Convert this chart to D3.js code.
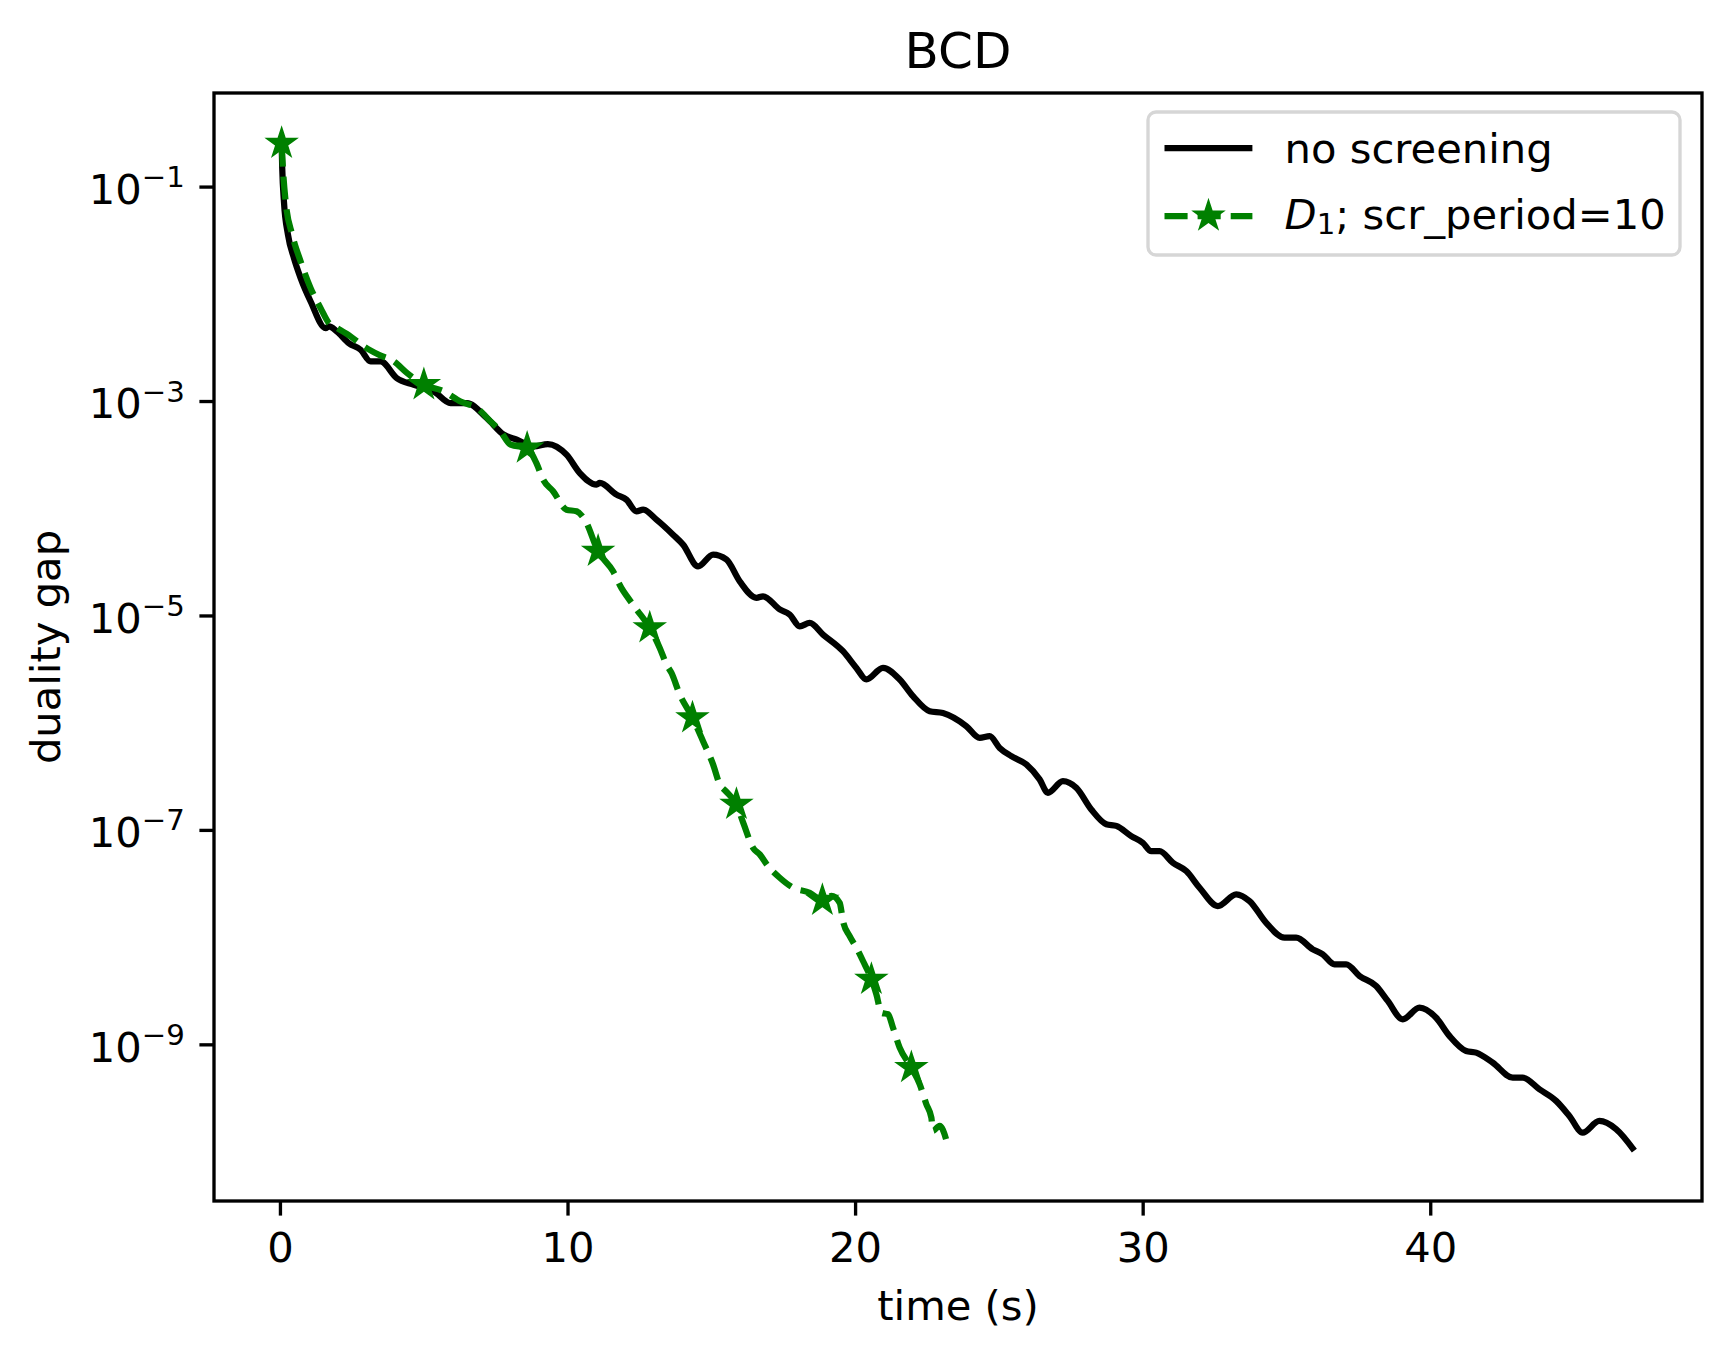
<!DOCTYPE html>
<html lang="en">
	<head>
		<meta charset="utf-8">
		<title>BCD duality gap</title>
		<script type="text/javascript" src="https://cdn.jsdelivr.net/npm/d3@7/dist/d3.min.js"></script>
		<style type="text/css">
			body { margin: 0; background: #fff; }
			text { font-family: "DejaVu Sans", sans-serif; }
		</style>
	</head>
	<body>
		<script type="text/javascript">

			// data
			var blackTime = [0.059, 0.080, 0.139, 0.278, 0.487, 0.720, 1.067, 1.588, 1.703, 1.981,
				2.398, 2.805, 3.153, 3.500, 4.067, 4.658, 5.353, 5.933, 6.500, 7.195,
				7.786, 8.238, 8.829, 9.315, 9.965, 10.428, 11.008, 11.123, 11.703, 12.051,
				12.398, 12.628, 13.093, 13.670, 14.018, 14.539, 15.061, 15.527, 15.989, 16.569,
				16.799, 17.379, 17.727, 18.074, 18.422, 18.884, 19.579, 20.045, 20.393, 20.970,
				21.550, 22.012, 22.593, 23.055, 23.869, 24.331, 24.679, 25.026, 25.433, 25.954,
				26.416, 26.705, 27.226, 27.692, 28.213, 28.735, 29.083, 29.604, 30.007, 30.299,
				30.588, 31.050, 31.516, 31.978, 32.614, 33.254, 33.716, 34.296, 34.932, 35.339,
				35.916, 36.263, 36.670, 37.077, 37.539, 38.119, 38.523, 39.044, 39.624, 40.205,
				40.667, 41.248, 41.595, 42.172, 42.868, 43.215, 43.796, 44.376, 44.838, 45.301,
				45.881, 46.462, 47.098];
			var blackGap = [2.53e-1, 1.48e-1, 7.25e-2, 3.57e-2, 2.15e-2, 1.40e-2, 8.48e-3, 4.78e-3, 4.96e-3, 4.45e-3,
				3.46e-3, 3.01e-3, 2.34e-3, 2.34e-3, 1.63e-3, 1.42e-3, 1.23e-3, 9.56e-4, 9.56e-4, 6.93e-4,
				4.85e-4, 4.36e-4, 3.77e-4, 3.97e-4, 3.16e-4, 2.13e-4, 1.66e-4, 1.72e-4, 1.34e-4, 1.20e-4,
				9.36e-5, 9.70e-5, 7.83e-5, 5.67e-5, 4.58e-5, 2.87e-5, 3.69e-5, 3.32e-5, 2.08e-5, 1.46e-5,
				1.51e-5, 1.14e-5, 1.02e-5, 7.93e-6, 8.51e-6, 6.64e-6, 4.64e-6, 3.24e-6, 2.53e-6, 3.24e-6,
				2.53e-6, 1.77e-6, 1.28e-6, 1.23e-6, 9.28e-7, 7.22e-7, 7.48e-7, 5.82e-7, 4.87e-7, 4.08e-7,
				2.96e-7, 2.22e-7, 2.85e-7, 2.47e-7, 1.55e-7, 1.13e-7, 1.09e-7, 8.75e-8, 7.58e-8, 6.34e-8,
				6.34e-8, 4.94e-8, 4.13e-8, 2.89e-8, 1.95e-8, 2.51e-8, 2.17e-8, 1.36e-8, 9.87e-9, 9.87e-9,
				7.69e-9, 6.91e-9, 5.58e-9, 5.58e-9, 4.34e-9, 3.50e-9, 2.54e-9, 1.71e-9, 2.20e-9, 1.77e-9,
				1.20e-9, 8.68e-10, 8.37e-10, 6.75e-10, 4.89e-10, 4.89e-10, 3.81e-10, 2.97e-10, 2.15e-10, 1.50e-10,
				1.93e-10, 1.62e-10, 1.02e-10];

			var greenTime = [0.059, 0.104, 0.198, 0.428, 0.720, 1.067, 1.415, 1.703, 1.992, 2.457,
				2.920, 3.441, 3.962, 4.425, 5.005, 5.700, 6.281, 6.858, 7.324, 7.671,
				8.019, 8.596, 8.923, 9.152, 9.499, 9.965, 10.313, 10.601, 11.064, 11.585,
				11.877, 12.106, 12.398, 12.860, 13.208, 13.441, 13.615, 13.903, 14.345, 14.713,
				15.061, 15.294, 15.502, 15.874, 16.128, 16.451, 16.684, 16.972, 17.379, 17.842,
				18.422, 18.863, 19.176, 19.465, 19.580, 19.812, 20.045, 20.275, 20.567, 20.740,
				20.914, 21.144, 21.318, 21.550, 21.957, 22.245, 22.478, 22.652, 22.708, 22.941,
				23.229];
			var greenGap = [2.53e-1, 1.48e-1, 7.25e-2, 3.55e-2, 2.00e-2, 1.13e-2, 7.34e-3, 5.32e-3, 4.78e-3, 4.00e-3,
				3.23e-3, 2.70e-3, 2.34e-3, 1.82e-3, 1.42e-3, 1.23e-3, 9.91e-4, 8.58e-4, 6.45e-4, 5.21e-4,
				3.92e-4, 3.64e-4, 2.62e-4, 1.85e-4, 1.44e-4, 9.70e-5, 9.36e-5, 7.83e-5, 3.97e-5, 2.58e-5,
				1.80e-5, 1.46e-5, 1.14e-5, 7.65e-6, 4.98e-6, 3.49e-6, 2.91e-6, 1.83e-6, 1.11e-6, 6.72e-7,
				4.08e-7, 2.66e-7, 2.30e-7, 1.73e-7, 1.13e-7, 6.81e-8, 5.91e-8, 4.60e-8, 3.58e-8, 2.89e-8,
				2.59e-8, 2.20e-8, 2.42e-8, 2.09e-8, 1.41e-8, 1.02e-8, 7.96e-9, 5.99e-9, 4.04e-9, 2.93e-9,
				1.97e-9, 1.91e-9, 1.43e-9, 9.31e-10, 6.06e-10, 4.25e-10, 2.76e-10, 2.07e-10, 1.56e-10, 1.74e-10,
				1.13e-10];
			// points of the green series that carry a star
			var greenMarks = [0, 14, 21, 28, 33, 38, 43, 51, 58, 64];

			var xTicks = [0, 10, 20, 30, 40];
			var yTickExp = [-1, -3, -5, -7, -9];
			var legendLabels = ["no screening", "D1; scr_period=10"];

			//Sizes (matplotlib at 300 dpi)
			var W = 1732, H = 1361;
			var margin = {top: 93, left: 214};
			var w = 1488, h = 1108;
			var fs = 41.67, lw = 6.25, axw = 3.33, tick = 14.6;

			var black = d3.zip(blackTime, blackGap);
			var green = d3.zip(greenTime, greenGap);
			var all = black.concat(green);

			// 5% padding like matplotlib autoscale
			var xe = d3.extent(all, function(d) { return d[0]; });
			var xp = (xe[1] - xe[0]) * 0.05;
			var le = d3.extent(all, function(d) { return Math.log10(d[1]); });
			var lp = (le[1] - le[0]) * 0.05;

			var xScale = d3.scaleLinear()
				.domain([xe[0] - xp, xe[1] + xp])
				.range([0, w]);

			var yScale = d3.scaleLog()
				.domain([Math.pow(10, le[0] - lp), Math.pow(10, le[1] + lp)])
				.range([h, 0]);

			var svg = d3.select("body")
				.append("svg")
				.attr("width", W)
				.attr("height", H);

			svg.append("rect").attr("width", W).attr("height", H).attr("fill", "#fff");

			var g = svg.append("g")
				.attr("transform", "translate(" + margin.left + "," + margin.top + ")");

			var line = d3.line()
				.x(function(d) { return xScale(d[0]); })
				.y(function(d) { return yScale(d[1]); })
				.curve(d3.curveMonotoneX);

			g.append("path")
				.datum(black)
				.attr("d", line)
				.attr("fill", "none")
				.attr("stroke", "#000")
				.attr("stroke-width", lw)
				.attr("stroke-linejoin", "round");

			g.append("path")
				.datum(green)
				.attr("d", line)
				.attr("fill", "none")
				.attr("stroke", "#008000")
				.attr("stroke-width", lw)
				.attr("stroke-dasharray", "23.1,10")
				.attr("stroke-linejoin", "round");

			var star = d3.symbol().type(d3.symbolStar).size(175);

			g.selectAll("path.mark")
				.data(greenMarks.map(function(i) { return green[i]; }))
				.enter()
				.append("path")
				.attr("class", "mark")
				.attr("d", star)
				.attr("transform", function(d) {
					return "translate(" + xScale(d[0]) + "," + yScale(d[1]) + ")";
				})
				.attr("fill", "#008000")
				.attr("stroke", "#008000")
				.attr("stroke-width", 3.5);

			// axes
			var xAxis = d3.axisBottom(xScale)
				.tickValues(xTicks)
				.tickSize(tick)
				.tickPadding(tick)
				.tickFormat(d3.format("d"));

			var gx = g.append("g")
				.attr("transform", "translate(0," + h + ")")
				.call(xAxis);
			gx.select(".domain").remove();
			gx.selectAll("line").attr("stroke-width", axw);
			gx.selectAll("text")
				.attr("font-size", fs)
				.attr("font-family", "DejaVu Sans")
				.attr("fill", "#000")
				.attr("dy", "0.76em");

			var yAxis = d3.axisLeft(yScale)
				.tickValues(yTickExp.map(function(e) { return Math.pow(10, e); }))
				.tickSize(tick)
				.tickPadding(tick);

			var gy = g.append("g").call(yAxis);
			gy.select(".domain").remove();
			gy.selectAll("line").attr("stroke-width", axw);
			gy.selectAll("text")
				.attr("font-family", "DejaVu Sans")
				.attr("fill", "#000")
				.attr("dy", null)
				.attr("y", 16.7)
				.text(null)
				.each(function(d) {
					var t = d3.select(this);
					t.append("tspan").attr("font-size", fs).text("10");
					t.append("tspan")
						.attr("font-size", 29.2)
						.attr("dy", -16.7)
						.text("\u2212" + Math.round(-Math.log10(d)));
				});

			// frame
			g.append("rect")
				.attr("width", w)
				.attr("height", h)
				.attr("fill", "none")
				.attr("stroke", "#000")
				.attr("stroke-width", axw);

			// labels
			svg.append("text")
				.attr("x", margin.left + w / 2)
				.attr("y", 68)
				.attr("text-anchor", "middle")
				.attr("font-size", 50)
				.text("BCD");

			svg.append("text")
				.attr("x", margin.left + w / 2)
				.attr("y", 1320)
				.attr("text-anchor", "middle")
				.attr("font-size", fs)
				.text("time (s)");

			svg.append("text")
				.attr("transform", "translate(60," + (margin.top + h / 2) + ") rotate(-90)")
				.attr("text-anchor", "middle")
				.attr("font-size", fs)
				.text("duality gap");

			// legend
			var lg = svg.append("g");
			lg.append("rect")
				.attr("x", 1148).attr("y", 112)
				.attr("width", 532).attr("height", 143)
				.attr("rx", 8)
				.attr("fill", "#fff").attr("fill-opacity", 0.8)
				.attr("stroke", "#d6d6d6").attr("stroke-width", axw);

			lg.append("line")
				.attr("x1", 1164.5).attr("x2", 1252.4)
				.attr("y1", 148).attr("y2", 148)
				.attr("stroke", "#000").attr("stroke-width", lw);
			lg.append("text")
				.attr("x", 1284.6).attr("y", 163)
				.attr("font-size", fs)
				.text(legendLabels[0]);

			lg.append("line")
				.attr("x1", 1164.5).attr("x2", 1252.4)
				.attr("y1", 216).attr("y2", 216)
				.attr("stroke", "#008000").attr("stroke-width", lw)
				.attr("stroke-dasharray", "23.1,10");
			lg.append("path")
				.attr("d", star)
				.attr("transform", "translate(1208.5,216)")
				.attr("fill", "#008000")
				.attr("stroke", "#008000")
				.attr("stroke-width", 3.5);

			var t2 = lg.append("text")
				.attr("x", 1284.6).attr("y", 229)
				.attr("font-size", fs);
			t2.append("tspan").attr("font-style", "italic").text(legendLabels[1].slice(0, 1));
			t2.append("tspan").attr("font-size", 29.2).attr("dy", 5).text(legendLabels[1].slice(1, 2));
			t2.append("tspan").attr("dy", -5).text(legendLabels[1].slice(2));

		</script>
	</body>
</html>
